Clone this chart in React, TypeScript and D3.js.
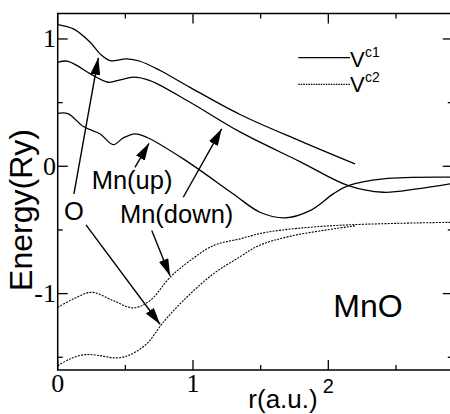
import React from 'react';
import * as d3 from 'd3';

// r (a.u.) and energy (Ry)
const oC1R = [0, 0.116, 0.24, 0.313, 0.387, 0.51, 0.608, 0.757, 0.978, 1.347, 1.79, 2.197];
const oC1E = [1.113, 1.079, 0.974, 0.883, 0.83, 0.844, 0.825, 0.752, 0.62, 0.407, 0.2, 0.019];

const mnDownC1R = [0, 0.069, 0.15, 0.239, 0.374, 0.461, 0.56, 0.682, 0.978, 1.347, 1.79, 2.148, 2.407, 2.654, 2.92];
const mnDownC1E = [0.817, 0.826, 0.787, 0.728, 0.66, 0.679, 0.7, 0.673, 0.503, 0.27, 0.037, -0.152, -0.204, -0.178, -0.135];

const mnUpC1R = [0, 0.078, 0.19, 0.312, 0.411, 0.485, 0.571, 0.658, 0.928, 1.298, 1.495, 1.68, 1.865, 2.037, 2.148, 2.407, 2.92];
const mnUpC1E = [0.416, 0.412, 0.312, 0.255, 0.17, 0.223, 0.255, 0.228, 0.058, -0.217, -0.361, -0.405, -0.348, -0.217, -0.152, -0.099, -0.086];

const mnDownC2R = [0, 0.115, 0.251, 0.411, 0.558, 0.682, 0.83, 0.978, 1.15, 1.347, 1.544, 2.037, 2.92];
const mnDownC2E = [-1.108, -1.042, -0.99, -1.055, -1.112, -1.055, -0.872, -0.741, -0.623, -0.57, -0.518, -0.466, -0.44];

const oC2R = [0, 0.091, 0.202, 0.313, 0.424, 0.521, 0.657, 0.78, 0.928, 1.15, 1.347, 1.482, 1.729, 2.197];
const oC2E = [-1.566, -1.513, -1.479, -1.487, -1.505, -1.487, -1.395, -1.225, -1.055, -0.845, -0.711, -0.625, -0.547, -0.468];

const xTicks = [0, 1, 2];
const xTickLabels = ['0', '1', '2'];
const xMinor = [0.5, 1.5, 2.5];
const yTicks = [1, 0, -1];
const yTickLabels = ['1', '0', '-1'];
const yMinor = [0.5, -0.5, -1.5];

// annotation arrows: [r0, E0, r1, E1] (tail -> tip)
const arrows = [
  [0.12, -0.217, 0.3, 0.852],
  [0.209, -0.46, 0.756, -1.241],
  [0.571, -0.008, 0.675, 0.18],
  [0.928, -0.243, 1.212, 0.294],
  [0.695, -0.505, 0.83, -0.86],
];
const notes = [
  { text: 'O', r: 0.12, e: -0.423, anchor: 'middle' },
  { text: 'Mn(up)', r: 0.251, e: -0.178, anchor: 'start' },
  { text: 'Mn(down)', r: 0.46, e: -0.448, anchor: 'start' },
];

const W = 450;
const H = 414;
const sans = '"Liberation Sans", Arial, Helvetica, sans-serif';
const serif = '"Liberation Serif", "Times New Roman", serif';

const App = () => {
  const x = d3.scaleLinear().domain([0, 2.92]).range([57.7, 452.8]);
  const y = d3.scaleLinear().domain([-1.6, 1.2]).range([370, 13.5]);

  const line = d3
    .line<[number, number]>()
    .x(d => x(d[0]))
    .y(d => y(d[1]))
    .curve(d3.curveCatmullRom.alpha(0.5));

  const zip = (rs: number[], es: number[]) => rs.map((r, i) => [r, es[i]] as [number, number]);

  const solid = [zip(oC1R, oC1E), zip(mnDownC1R, mnDownC1E), zip(mnUpC1R, mnUpC1E)];
  const dotted = [zip(mnDownC2R, mnDownC2E), zip(oC2R, oC2E)];

  const left = x(0);
  const right = x(2.92);
  const top = y(1.2);
  const bottom = y(-1.6);

  return (
    <svg width={W} height={H} style={{ position: 'absolute', left: 0, top: 0, background: '#fff' }}>
      <defs>
        <marker id="head" markerUnits="userSpaceOnUse" viewBox="0 0 17 10" markerWidth={17} markerHeight={10}
          refX={17} refY={5} orient="auto">
          <path d="M0,0L17,5L0,10z" fill="#000" />
        </marker>
        <clipPath id="plot">
          <rect x={left} y={top} width={right - left} height={bottom - top} />
        </clipPath>
      </defs>

      <g clipPath="url(#plot)" fill="none" stroke="#000">
        {solid.map((d, i) => (
          <path key={'s' + i} d={line(d) || ''} strokeWidth={1.3} />
        ))}
        {dotted.map((d, i) => (
          <path key={'d' + i} d={line(d) || ''} strokeWidth={1.1} strokeDasharray="2,1.2" />
        ))}
      </g>

      {/* frame */}
      <rect x={left} y={top} width={right - left} height={bottom - top} fill="none" stroke="#000" strokeWidth={1.5} />

      {/* ticks */}
      <g stroke="#000" strokeWidth={1.3}>
        {xTicks.map(t => (
          <g key={'xt' + t}>
            <line x1={x(t)} x2={x(t)} y1={bottom} y2={bottom - 10} />
            <line x1={x(t)} x2={x(t)} y1={top} y2={top + 10} />
          </g>
        ))}
        {xMinor.map(t => (
          <g key={'xm' + t}>
            <line x1={x(t)} x2={x(t)} y1={bottom} y2={bottom - 5} />
            <line x1={x(t)} x2={x(t)} y1={top} y2={top + 5} />
          </g>
        ))}
        {yTicks.map(t => (
          <g key={'yt' + t}>
            <line x1={left} x2={left + 10} y1={y(t)} y2={y(t)} />
            <line x1={right} x2={right - 10} y1={y(t)} y2={y(t)} />
          </g>
        ))}
        {yMinor.map(t => (
          <g key={'ym' + t}>
            <line x1={left} x2={left + 5} y1={y(t)} y2={y(t)} />
            <line x1={right} x2={right - 5} y1={y(t)} y2={y(t)} />
          </g>
        ))}
      </g>

      {/* tick labels */}
      {xTicks.map((t, i) =>
        i < 2 ? (
          <text key={'xl' + t} x={x(t)} y={392} textAnchor="middle" fontFamily={serif} fontSize={26}>
            {xTickLabels[i]}
          </text>
        ) : (
          <text key={'xl' + t} x={x(t)} y={392.7} textAnchor="middle" fontFamily={sans} fontSize={20}>
            {xTickLabels[i]}
          </text>
        )
      )}
      {yTicks.map((t, i) => (
        <text key={'yl' + t} x={56} y={y(t) + 8.5} textAnchor="end" fontFamily={serif} fontSize={26}>
          {yTickLabels[i]}
        </text>
      ))}

      {/* axis titles */}
      <text x={283} y={408.3} textAnchor="middle" fontFamily={sans} fontSize={26}>r(a.u.)</text>
      <text transform="translate(32,210) rotate(-90)" textAnchor="middle" fontFamily={sans} fontSize={32}>
        Energy(Ry)
      </text>

      {/* arrows and labels */}
      <g stroke="#000" strokeWidth={1.4}>
        {arrows.map((a, i) => (
          <line key={'a' + i} x1={x(a[0])} y1={y(a[1])} x2={x(a[2])} y2={y(a[3])} markerEnd="url(#head)" />
        ))}
      </g>
      {notes.map(n => (
        <text key={n.text} x={x(n.r)} y={y(n.e)} textAnchor={n.anchor} fontFamily={sans} fontSize={25.5}>
          {n.text}
        </text>
      ))}
      <text x={x(2.037)} y={y(-1.181)} fontFamily={sans} fontSize={32}>MnO</text>

      {/* legend */}
      <line x1={298.3} x2={350} y1={57.7} y2={57.7} stroke="#000" strokeWidth={1.2} />
      <text x={350} y={66.7} fontFamily={sans} fontSize={22}>V</text>
      <text x={365} y={56.7} fontFamily={sans} fontSize={14}>c1</text>
      <line x1={298.3} x2={350} y1={84.3} y2={84.3} stroke="#000" strokeWidth={1.2} strokeDasharray="1.5,1" />
      <text x={350} y={91.7} fontFamily={sans} fontSize={22}>V</text>
      <text x={365} y={81.7} fontFamily={sans} fontSize={14}>c2</text>
    </svg>
  );
};

export default App;
